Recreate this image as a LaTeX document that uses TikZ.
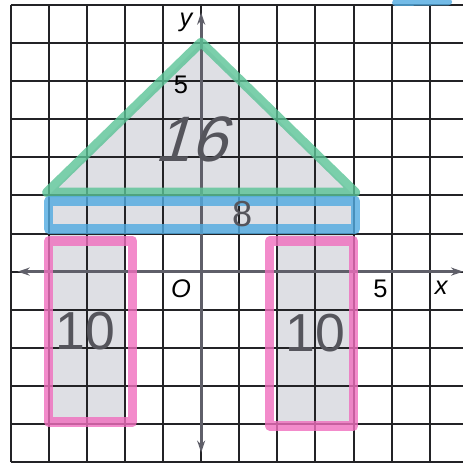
\documentclass[tikz,border=0pt]{standalone}
\usepackage{fontspec}
\setmainfont{Liberation Sans}
\usetikzlibrary{arrows.meta}

\definecolor{paperfill}{RGB}{222,223,228}
\definecolor{gridink}{RGB}{35,35,38}
\definecolor{axisink}{RGB}{95,95,105}
\definecolor{pencil}{RGB}{85,85,92}
\definecolor{markgreen}{RGB}{90,195,150}
\definecolor{markblue}{RGB}{80,170,225}
\definecolor{markpink}{RGB}{240,110,190}

\begin{document}
\begin{tikzpicture}[
    printed/.style={text=black, font=\fontsize{19}{21}\selectfont},
    hand/.style={text=pencil, inner sep=0pt}
  ]

  \useasboundingbox (-5.28,-5.05) rectangle (6.86,7.13);

     \coordinate (A) at (-4,2);
      \coordinate (B) at (0,6);
       \coordinate (C) at (4,2);
        \coordinate (D) at (-4,1);
         \coordinate (F) at (-4,-4);
          \coordinate (G) at (-2,1);
           \coordinate (J) at (2,-4);
            \coordinate (E) at (4,1);

      \coordinate (a) at (-4.05,2.08);
      \coordinate (b) at (0,6.02);
      \coordinate (c) at (4.05,2.08);
      \coordinate (d) at (-4,1.12);
      \coordinate (e) at (4.05,1.85);
      \coordinate (f) at (-4,-3.95);
      \coordinate (g) at (-1.8,0.8);
      \coordinate (h) at (1.8,-4.05);
      \coordinate (i) at (4,0.8);
      \coordinate (s) at (5.1,7.06);
      \coordinate (t) at (6.5,7.08);

      \coordinate (xl) at (-4.82,0);
      \coordinate (xr) at (6.88,0);
      \coordinate (yt) at (0,6.8);
      \coordinate (yb) at (0,-4.75);

    % shaded figure
    \fill[paperfill] (A) -- (B) -- (C) -- cycle;
    \fill[paperfill] (D) rectangle (C);
    \fill[paperfill] (F) rectangle (G);
    \fill[paperfill] (J) rectangle (E);

    % grid paper
    \draw[gridink, line width=1.5pt] (-5,-5) grid (6.9,7);

    \tikzset{every path/.style={line width=2.2pt, axisink}}
    \draw[{Stealth[length=9pt,width=6pt]}-{Stealth[length=9pt,width=6pt]}] (xl) -- (xr);
    \draw[{Stealth[length=9pt,width=6pt]}-{Stealth[length=9pt,width=6pt]}] (yb) -- (yt);

    \tikzset{every path/.style={line width=7pt, opacity=0.8, line join=round, line cap=round}}
    \draw[markgreen] (a) -- (b) -- (c) -- cycle;
    \draw[markblue] (d) rectangle (e);
    \draw[markpink] (f) rectangle (g);
    \draw[markpink] (h) rectangle (i);
    \draw[markblue, line width=5pt] (s) -- (t);

    \tikzset{every path/.style={}}
    \node[printed] (ylab) at (-0.4,6.53) {\itshape y};
    \node[printed] (xlab) at (6.3,-0.42) {\itshape x};
    \node[printed] (ofive) at (-0.53,4.91) {5};
    \node[printed] (xfive) at (4.71,-0.44) {5};
    \node[printed] (orig) at (-0.53,-0.44) {\itshape O};

    \node[hand, font=\fontsize{48}{50}\selectfont, xslant=0.3] (tri) at (-0.1,3.47) {16};
    \node[hand, font=\fontsize{27}{29}\selectfont] (band) at (1.08,1.5) {8};
    \node[hand, font=\fontsize{40}{42}\selectfont] (legl) at (-3.04,-1.55) {10};
    \node[hand, font=\fontsize{40}{42}\selectfont] (legr) at (3.0,-1.62) {10};

\end{tikzpicture}
\end{document}
